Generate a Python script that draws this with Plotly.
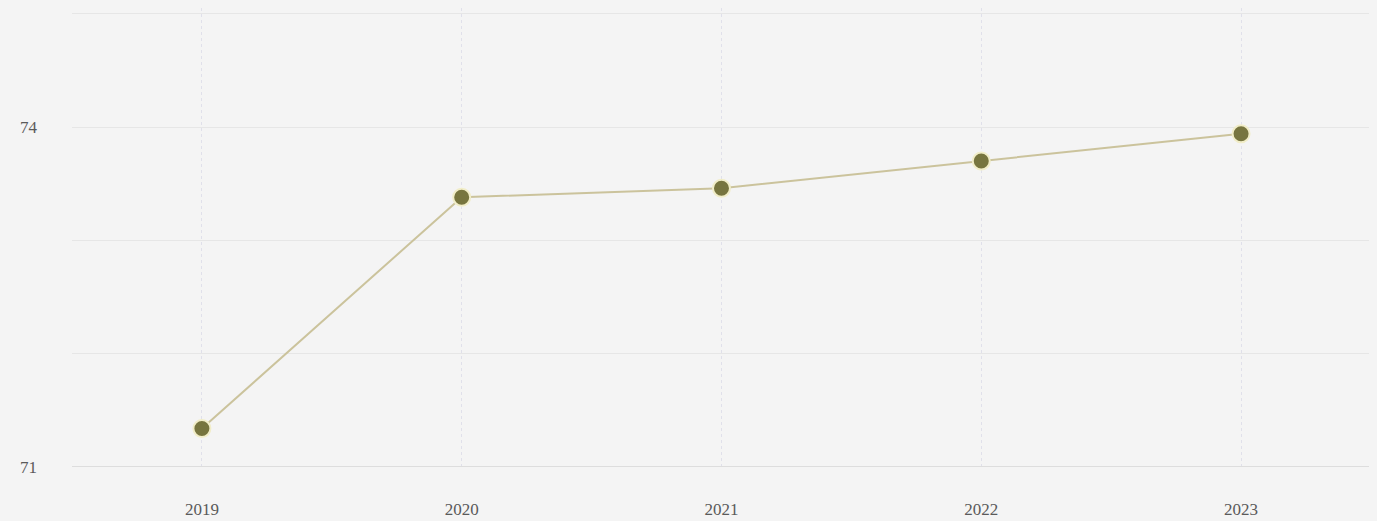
import plotly.graph_objects as go

years = [2019, 2020, 2021, 2022, 2023]
values = [71.34, 73.38, 73.46, 73.70, 73.94]
y_tick_vals = [71, 74]
y_tick_text = ["71", "74"]

fig = go.Figure()
fig.add_trace(go.Scatter(
    x=years, y=values, mode="lines+markers",
    line=dict(color="#cbc39c", width=2),
    marker=dict(color="#77753f", size=17, line=dict(color="#f1edc8", width=2)),
    showlegend=False,
))

fig.update_layout(
    width=1377, height=521,
    margin=dict(l=64, r=13, t=0, b=62),
    paper_bgcolor="#f4f4f4", plot_bgcolor="#f4f4f4",
    font=dict(family="Liberation Serif", size=17, color="#5a5a5a"),
    xaxis=dict(
        range=[2018.5, 2023.504], tickvals=years, ticktext=[str(y) for y in years],
        showgrid=True, gridcolor="#e0e0ea", griddash="dot", gridwidth=1,
        zeroline=False, showline=False, ticks="", ticklabelstandoff=30,
    ),
    yaxis=dict(
        range=[71, 75.05], tickvals=y_tick_vals, ticktext=y_tick_text,
        showgrid=True, gridcolor="#e6e6e6", gridwidth=1,
        minor=dict(dtick=1, tick0=71, showgrid=True, gridcolor="#e6e6e6", gridwidth=1),
        zeroline=False, showline=False, ticks="", ticklabelstandoff=34,
    ),
    shapes=[dict(type="line", xref="paper", yref="y", x0=0, x1=1, y0=71, y1=71,
                 line=dict(color="#dddddd", width=2))],
)

fig.write_html("out.html", post_script="document.body.style.background='#f4f4f4';")
